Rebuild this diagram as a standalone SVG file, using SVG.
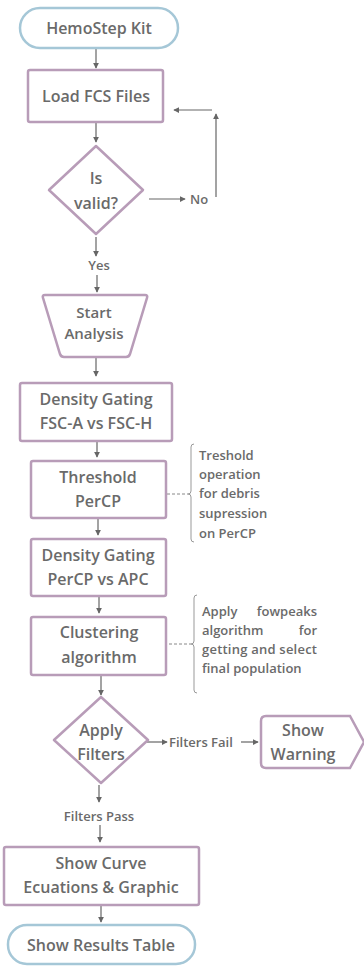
<svg xmlns="http://www.w3.org/2000/svg" width="364" height="966" viewBox="0 0 364 966">
<defs>
<style>
.n{fill:#fff;stroke:#b89cb8;stroke-width:2.5}
.t{fill:#fff;stroke:#a5c7d7;stroke-width:2.5}
.l{font-family:"Open Sans","Liberation Sans",sans-serif;font-weight:600;font-size:16px;fill:#6a6a6a;text-anchor:middle;dominant-baseline:central}
.s{font-family:"Open Sans","Liberation Sans",sans-serif;font-weight:600;font-size:13px;fill:#6a6a6a;dominant-baseline:central}
.c{fill:none;stroke:#666;stroke-width:1.2}
.d{fill:none;stroke:#888;stroke-width:1;stroke-dasharray:3 2}
.b{fill:none;stroke:#999;stroke-width:1}
</style>
<marker id="a" viewBox="0 0 8 8" refX="7" refY="4" markerWidth="5" markerHeight="5" orient="auto"><path d="M0,0 L8,4 L0,8 Z" fill="#666"/></marker>
</defs>
<rect width="364" height="966" fill="#fff"/>
<g id="connectors">
<line class="c" x1="96" y1="49" x2="96" y2="68" marker-end="url(#a)"/>
<line class="c" x1="96" y1="123" x2="96" y2="142" marker-end="url(#a)"/>
<line class="c" x1="149" y1="199" x2="185" y2="199" marker-end="url(#a)"/>
<line class="c" x1="216" y1="197" x2="216" y2="114" marker-end="url(#a)"/>
<line class="c" x1="212" y1="110" x2="174" y2="110" marker-end="url(#a)"/>
<line class="c" x1="96" y1="237" x2="96" y2="256" marker-end="url(#a)"/>
<line class="c" x1="97" y1="275" x2="97" y2="292" marker-end="url(#a)"/>
<line class="c" x1="96" y1="358" x2="96" y2="376" marker-end="url(#a)"/>
<line class="c" x1="97" y1="442" x2="97" y2="457" marker-end="url(#a)"/>
<line class="c" x1="98" y1="519" x2="98" y2="535" marker-end="url(#a)"/>
<line class="c" x1="99" y1="597" x2="99" y2="613" marker-end="url(#a)"/>
<line class="c" x1="101" y1="676" x2="101" y2="695" marker-end="url(#a)"/>
<line class="c" x1="147" y1="742" x2="167" y2="742" marker-end="url(#a)"/>
<line class="c" x1="241" y1="742" x2="258" y2="742" marker-end="url(#a)"/>
<line class="c" x1="99" y1="785" x2="99" y2="802" marker-end="url(#a)"/>
<line class="c" x1="100" y1="825" x2="100" y2="842" marker-end="url(#a)"/>
<line class="c" x1="101" y1="906" x2="101" y2="922" marker-end="url(#a)"/>
<line class="d" x1="167" y1="494" x2="188" y2="494"/>
<line class="d" x1="169" y1="644" x2="191" y2="644"/>
<path class="b" d="M194,444 Q191,444 191,447 L191,491 Q191,494 188,494 Q191,494 191,497 L191,539 Q191,542 194,542"/>
<path class="b" d="M197,595 Q194,595 194,598 L194,641 Q194,644 191,644 Q194,644 194,647 L194,690 Q194,693 197,693"/>
</g>
<g id="hemostep">
<rect class="t" x="20" y="8" width="158" height="40" rx="20"/>
<text class="l" x="99" y="28">HemoStep Kit</text>
</g>
<g id="load">
<rect class="n" x="28" y="70" width="135" height="52" rx="2"/>
<text class="l" x="96" y="96">Load FCS Files</text>
</g>
<g id="valid">
<path class="n" d="M96,146 L143,190 L96,234 L49,190 Z" stroke-linejoin="round"/>
<text class="l" x="96" y="178">Is</text>
<text class="l" x="96" y="203">valid?</text>
</g>
<text class="s" x="190" y="199">No</text>
<text class="s" x="99" y="265" text-anchor="middle">Yes</text>
<g id="start">
<path class="n" d="M45,295 L145,295 Q148,295 147,298 L130,354 Q129,357 126,357 L64,357 Q61,357 60,354 L43,298 Q42,295 45,295 Z"/>
<text class="l" x="94" y="312" style="font-size:15px">Start</text>
<text class="l" x="94" y="333" style="font-size:15px">Analysis</text>
</g>
<g id="gating1">
<rect class="n" x="20" y="383" width="152" height="58" rx="2"/>
<text class="l" x="96" y="399">Density Gating</text>
<text class="l" x="96" y="423">FSC-A vs FSC-H</text>
</g>
<g id="threshold">
<rect class="n" x="31" y="461" width="135" height="57" rx="2"/>
<text class="l" x="98" y="477">Threshold</text>
<text class="l" x="98" y="501">PerCP</text>
</g>
<g id="note1">
<text class="s" x="199" y="455">Treshold</text>
<text class="s" x="199" y="474">operation</text>
<text class="s" x="199" y="493">for debris</text>
<text class="s" x="199" y="513">supression</text>
<text class="s" x="199" y="533">on PerCP</text>
</g>
<g id="gating2">
<rect class="n" x="31" y="539" width="135" height="57" rx="2"/>
<text class="l" x="98" y="555">Density Gating</text>
<text class="l" x="98" y="579">PerCP vs APC</text>
</g>
<g id="clustering">
<rect class="n" x="31" y="617" width="135" height="58" rx="2"/>
<text class="l" x="99" y="632">Clustering</text>
<text class="l" x="99" y="657">algorithm</text>
</g>
<g id="note2">
<text class="s" x="202" y="611">Apply</text>
<text class="s" x="317" y="611" text-anchor="end">fowpeaks</text>
<text class="s" x="202" y="630">algorithm</text>
<text class="s" x="317" y="630" text-anchor="end">for</text>
<text class="s" x="202" y="649" textLength="115" lengthAdjust="spacing">getting and select</text>
<text class="s" x="202" y="668">final population</text>
</g>
<g id="filters">
<path class="n" d="M101,697 L148,740 L101,783 L54,740 Z" stroke-linejoin="round"/>
<text class="l" x="101" y="730">Apply</text>
<text class="l" x="101" y="754">Filters</text>
</g>
<text class="s" x="169" y="742">Filters Fail</text>
<g id="warning">
<path class="n" d="M266,716 L350,716 L364,742 L350,768 L266,768 Q261,768 261,763 L261,721 Q261,716 266,716 Z"/>
<text class="l" x="303" y="730">Show</text>
<text class="l" x="303" y="754">Warning</text>
</g>
<text class="s" x="99" y="816" text-anchor="middle">Filters Pass</text>
<g id="curve">
<rect class="n" x="4" y="847" width="195" height="58" rx="2"/>
<text class="l" x="101" y="863">Show Curve</text>
<text class="l" x="101" y="887">Ecuations &amp; Graphic</text>
</g>
<g id="results">
<rect class="t" x="8" y="925" width="187" height="39" rx="19"/>
<text class="l" x="101" y="945">Show Results Table</text>
</g>
</svg>
